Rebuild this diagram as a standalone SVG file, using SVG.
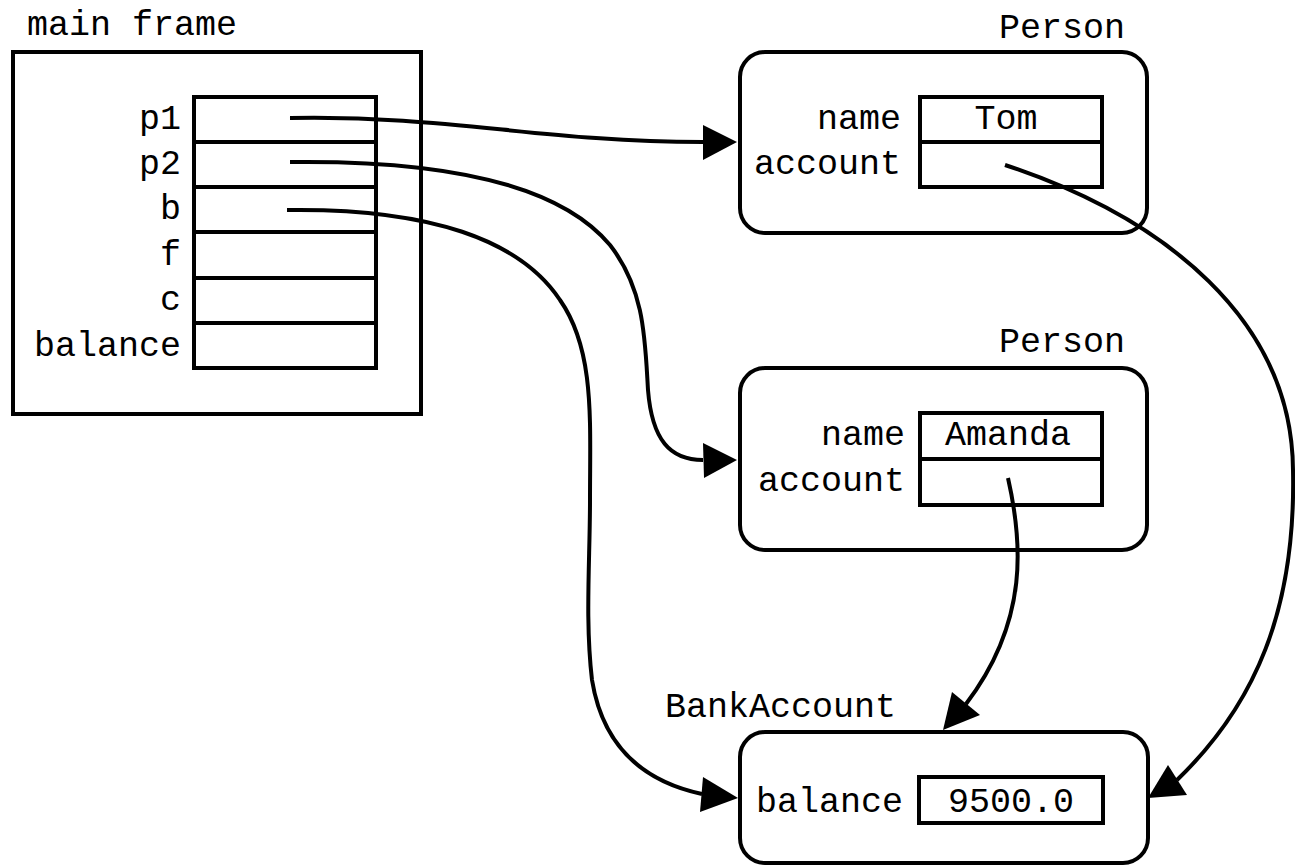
<svg xmlns="http://www.w3.org/2000/svg" width="1295" height="867" viewBox="0 0 1295 867">
<style>
text{font-family:"Liberation Mono","DejaVu Sans Mono",monospace;font-size:35px;fill:#000}
.box{fill:#fff;stroke:#000;stroke-width:4}
.cell{fill:none;stroke:#000;stroke-width:4}
.end{text-anchor:end}
.mid{text-anchor:middle}
.edge{fill:none;stroke:#000;stroke-width:4}
.head{fill:#000;stroke:none}
</style>
<rect width="1295" height="867" fill="#fff"/>
<g id="main-frame">
<text x="27" y="35">main frame</text>
<rect class="box" x="13" y="52" width="408" height="362"/>
<rect class="cell" x="194" y="97" width="182" height="271"/>
<path class="cell" d="M194,142H376M194,187H376M194,232H376M194,278H376M194,323H376"/>
<text class="end" x="181" y="129">p1</text>
<text class="end" x="181" y="174">p2</text>
<text class="end" x="181" y="219">b</text>
<text class="end" x="181" y="265">f</text>
<text class="end" x="181" y="310">c</text>
<text class="end" x="181" y="356">balance</text>
</g>
<g id="person-tom">
<text class="end" x="1125" y="38">Person</text>
<rect class="box" x="740" y="52" width="407" height="181" rx="25"/>
<rect class="cell" x="920" y="97" width="182" height="90"/>
<path class="cell" d="M920,142H1102"/>
<text class="end" x="901" y="129">name</text>
<text class="end" x="901" y="174">account</text>
<text class="mid" x="1006" y="129">Tom</text>
</g>
<g id="person-amanda">
<text class="end" x="1125" y="352">Person</text>
<rect class="box" x="740" y="368" width="407" height="182" rx="25"/>
<rect class="cell" x="920" y="413" width="182" height="92"/>
<path class="cell" d="M920,459H1102"/>
<text class="end" x="905" y="445">name</text>
<text class="end" x="905" y="491">account</text>
<text class="mid" x="1008" y="445">Amanda</text>
</g>
<g id="bank-account">
<text x="665" y="717">BankAccount</text>
<rect class="box" x="740" y="732" width="408" height="131" rx="25"/>
<rect class="cell" x="919" y="777" width="184" height="46"/>
<text class="end" x="903" y="812">balance</text>
<text class="mid" x="1011" y="812">9500.0</text>
</g>
<g id="connectors">
<path class="edge" d="M290,118 C450,115 540,142 703,142"/>
<polygon class="head" points="737,142 703,125 703,160"/>
<path class="edge" d="M290,162 C450,160 560,185 610,245 C645,290 645,340 648,390 C652,440 670,460 703,460"/>
<polygon class="head" points="737,460 703,443 704,478"/>
<path class="edge" d="M287,210 C430,208 520,240 560,300 C595,350 590,420 590,500 C590,560 585,620 592,680 C605,760 660,785 702,794"/>
<polygon class="head" points="738,798 703,777 700,812"/>
<path class="edge" d="M1008,478 C1022,540 1030,620 966,704"/>
<polygon class="head" points="943,730 952,692 980,715"/>
<path class="edge" d="M1005,165 C1165,218 1292,320 1293,470 C1296,610 1255,705 1177,780"/>
<polygon class="head" points="1148,798 1168,765 1187,795"/>
</g>
</svg>
